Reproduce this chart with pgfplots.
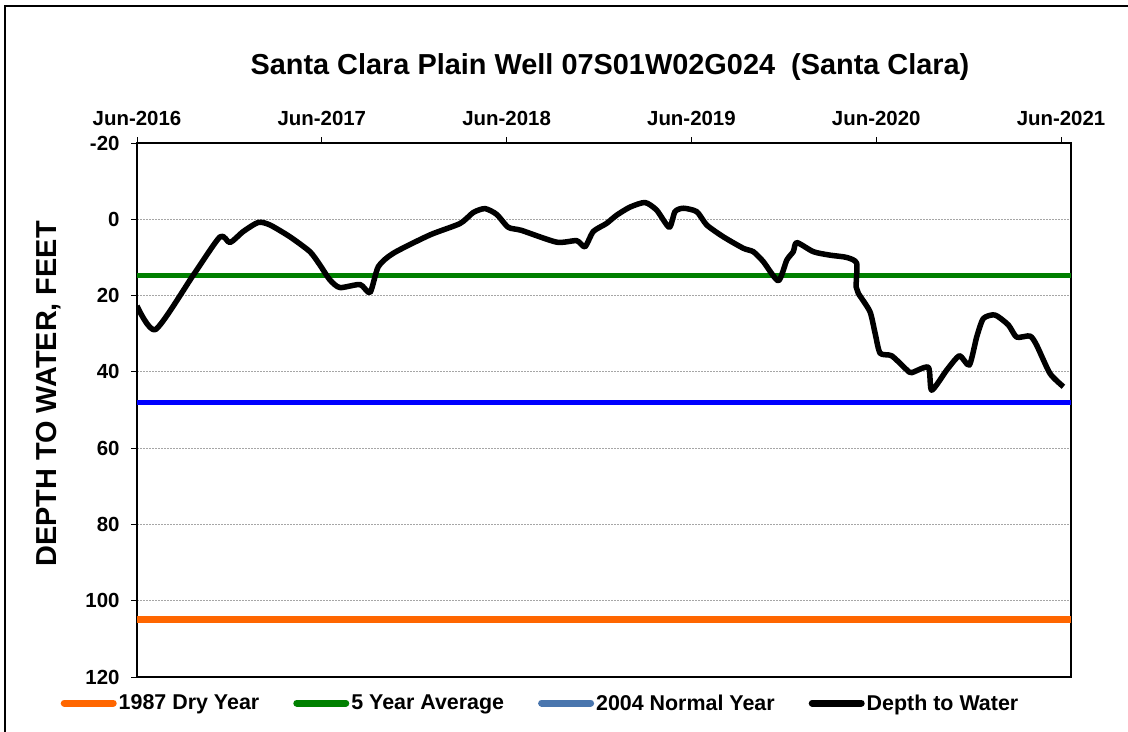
\documentclass[border=0pt]{standalone}
\usepackage{fontspec}
\setmainfont{Liberation Sans}
\usepackage{pgfplots}
\pgfplotsset{compat=1.18}
\definecolor{dryorange}{HTML}{FF6600}
\definecolor{avggreen}{HTML}{008000}
\definecolor{normblue}{HTML}{0000FF}
\definecolor{legblue}{HTML}{4A76AE}
\begin{document}
\begin{tikzpicture}[x=1bp,y=1bp]
\useasboundingbox (0,0) rectangle (1128,-732);
\draw[line width=2bp] (4.5,-732) -- (4.5,-6.5) -- (1128,-6.5);
\node[font=\fontsize{29}{34}\selectfont\bfseries] at (610,-67) {Santa Clara Plain Well 07S01W02G024\ \ (Santa Clara)};
\begin{axis}[
  at={(137bp,-143bp)}, anchor=north west,
  scale only axis, width=934bp, height=534bp,
  xmin=0, xmax=5.054, ymin=-20, ymax=120,
  y dir=reverse,
  xtick={0,1,2,3,4,5},
  xticklabels={Jun-2016,Jun-2017,Jun-2018,Jun-2019,Jun-2020,Jun-2021},
  xtick pos=right, xticklabel pos=right,
  ytick={-20,0,20,40,60,80,100,120},
  ytick pos=left,
  tick align=outside,
  major tick length=6bp,
  /pgf/number format/assume math mode=true,
  tick label style={font=\fontsize{20.5}{24}\selectfont\bfseries, black},
  xticklabel style={yshift=8bp},
  yticklabel style={xshift=-8bp},
  major tick style={black, line width=1bp},
  axis line style={black, line width=2bp},
  ymajorgrids,
  major grid style={gray!70, dash pattern=on 2bp off 1bp, line width=0.8bp},
  ylabel={DEPTH TO WATER, FEET},
  ylabel style={font=\fontsize{29}{34}\selectfont\bfseries, at={(axis description cs:-0.0948,0.530)}, anchor=center},
  legend columns=4,
  legend style={at={(0.432,-0.0487)}, anchor=center, draw=none, fill=none,
    font=\fontsize{21.5}{25}\selectfont\bfseries,
    /tikz/every even column/.append style={column sep=32bp},
    nodes={inner sep=2bp}},
  legend image code/.code={\draw[#1, line width=7bp, line cap=round] (0bp,0bp) -- (49bp,0bp);},
]
\addlegendimage{dryorange}
\addlegendentry{1987 Dry Year}
\addlegendimage{avggreen}
\addlegendentry{5 Year Average}
\addlegendimage{legblue}
\addlegendentry{2004 Normal Year}
\addlegendimage{black}
\addlegendentry{Depth to Water}

\addplot[forget plot, dryorange, line width=7bp] coordinates {(0,105) (5.054,105)};
\addplot[forget plot, avggreen, line width=5bp] coordinates {(0,14.7) (5.054,14.7)};
\addplot[forget plot, normblue, line width=5bp] coordinates {(0,48.0) (5.054,48.0)};
\addplot[forget plot, black, line width=5.5bp, smooth, tension=0.4, line join=round] coordinates {
(0.000,22.7) (0.100,28.9) (0.305,14.6) (0.449,4.6) (0.503,6.1) (0.575,3.2)
(0.657,0.8) (0.720,1.5) (0.828,4.6) (0.936,8.5) (0.990,12.0) (1.044,15.9)
(1.098,17.9) (1.207,17.1) (1.261,19.2) (1.306,12.4) (1.387,8.9) (1.585,4.1)
(1.748,1.1) (1.820,-1.8) (1.883,-2.8) (1.946,-1.3) (2.009,2.1) (2.080,2.9)
(2.271,6.0) (2.379,5.6) (2.424,7.2) (2.469,3.2) (2.540,1.1) (2.596,-1.1)
(2.668,-3.2) (2.749,-4.4) (2.812,-2.4) (2.880,2.1) (2.911,-2.0) (2.956,-2.9)
(3.029,-2.0) (3.083,1.5) (3.173,4.6) (3.281,7.6) (3.335,8.5) (3.389,11.1)
(3.470,16.1) (3.516,10.7) (3.551,8.5) (3.570,6.1) (3.660,8.5) (3.750,9.4)
(3.840,10.0) (3.894,11.5) (3.891,17.7) (3.903,19.4) (3.966,24.2) (3.994,29.9)
(4.021,35.1) (4.084,35.8) (4.166,39.5) (4.192,40.2) (4.282,38.8) (4.300,44.8)
(4.382,39.5) (4.450,35.8) (4.504,38.2) (4.544,30.8) (4.580,26.0) (4.643,25.1)
(4.715,27.7) (4.760,30.9) (4.832,30.6) (4.868,33.0) (4.940,40.4) (5.013,43.9)
};
\end{axis}
\end{tikzpicture}
\end{document}
